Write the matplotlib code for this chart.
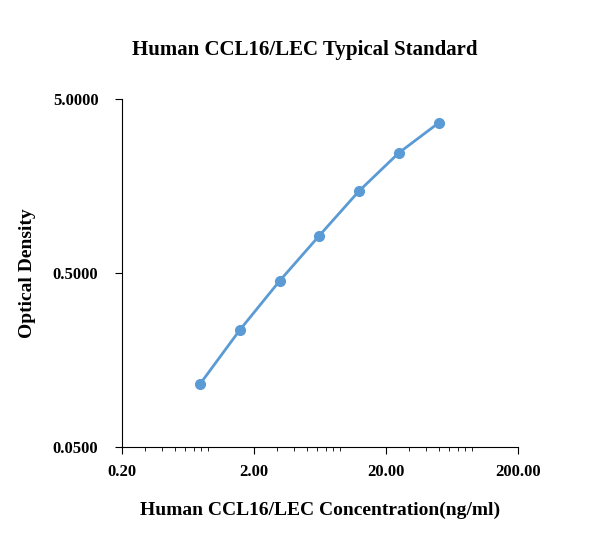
import matplotlib
matplotlib.use("Agg")
import matplotlib.pyplot as plt
from matplotlib.ticker import FixedLocator, FixedFormatter, LogLocator, NullLocator

conc = [0.78, 1.56, 3.125, 6.25, 12.5, 25, 50]
od = [0.115, 0.235, 0.45, 0.82, 1.48, 2.45, 3.64]

xticks = [0.2, 2, 20, 200]
xlabels = ["0.20", "2.00", "20.00", "200.00"]
yticks = [0.05, 0.5, 5]
ylabels = ["0.0500", "0.5000", "5.0000"]

plt.rcParams['font.family'] = ['Liberation Serif', 'DejaVu Serif']
plt.rcParams['font.weight'] = 'bold'

fig = plt.figure(figsize=(6.1, 5.58), dpi=100)
ax = fig.add_axes([122/610, 1-447/558, (518-122)/610, (447-99)/558])
ax.plot(conc, od, color='#5b9bd5', linewidth=2, marker='o', markersize=7)
ax.set_xscale('log')
ax.set_yscale('log')
ax.set_xlim(0.2, 200)
ax.set_ylim(0.05, 5)
ax.xaxis.set_major_locator(FixedLocator(xticks))
ax.xaxis.set_major_formatter(FixedFormatter(xlabels))
ax.xaxis.set_minor_locator(LogLocator(base=10, subs=range(2, 10)))
ax.yaxis.set_major_locator(FixedLocator(yticks))
ax.yaxis.set_major_formatter(FixedFormatter(ylabels))
ax.yaxis.set_minor_locator(NullLocator())
for s in ['top', 'right']:
    ax.spines[s].set_visible(False)
ax.tick_params(axis='both', which='major', labelsize=12, length=5, direction='out')
ax.tick_params(axis='y', which='major', pad=12)
ax.tick_params(axis='x', which='major', pad=7)
ax.tick_params(axis='x', which='minor', length=3, direction='out')
ax.set_xlabel("Human CCL16/LEC Concentration(ng/ml)", fontsize=14, fontweight='bold', labelpad=16)
ax.set_ylabel("Optical Density", fontsize=14, fontweight='bold', labelpad=12)
fig.text(0.5, 1-50/558, "Human CCL16/LEC Typical Standard", ha='center', va='center',
         fontsize=15, fontweight='bold')
fig.savefig("out.png", dpi=100)
